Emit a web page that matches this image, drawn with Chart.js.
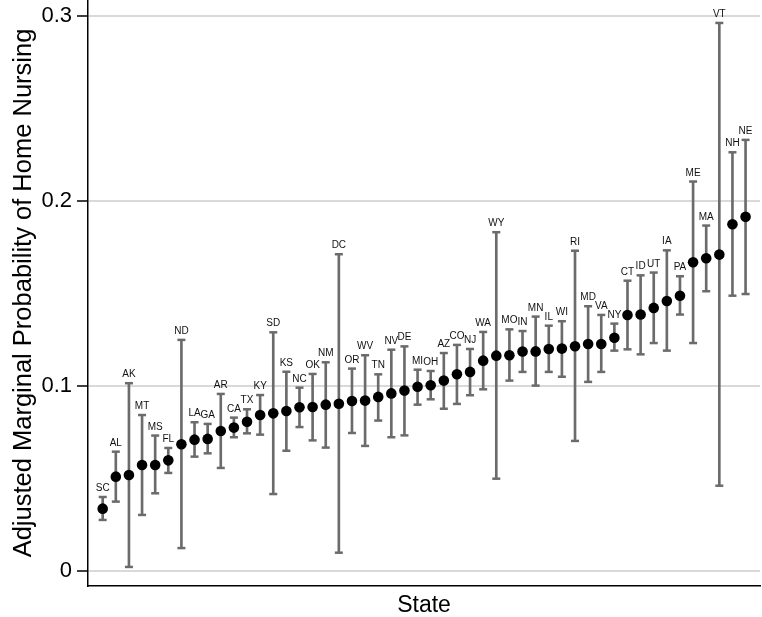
<!DOCTYPE html>
<html>
<head>
<meta charset="utf-8">
<script src="https://cdn.jsdelivr.net/npm/chart.js@4/dist/chart.umd.min.js"></script>
<style>
  html, body { margin: 0; padding: 0; background: #fff; }
  #chart { display: block; }
</style>
</head>
<body>
<canvas id="chart" width="762" height="617"></canvas>
<script>
// States sorted by adjusted marginal probability, with 95% CI
const states = ['SC','AL','AK','MT','MS','FL','ND','LA','GA','AR','CA','TX','KY','SD','KS','NC','OK','NM','DC','OR',
    'WV','TN','NV','DE','MI','OH','AZ','CO','NJ','WA','WY','MO','IN','MN','IL','WI','RI','MD','VA','NY',
    'CT','ID','UT','IA','PA','ME','MA','VT','NH','NE'];

const estimate = [0.0337,0.0510,0.0519,0.0573,0.0573,0.0598,0.0685,0.0710,0.0714,0.0757,0.0775,0.0807,0.0843,0.0852,0.0865,0.0885,0.0886,0.0899,0.0904,0.0919,
    0.0921,0.0941,0.0960,0.0975,0.0996,0.1004,0.1029,0.1063,0.1076,0.1137,0.1164,0.1166,0.1186,0.1187,0.1200,0.1202,0.1215,0.1227,0.1227,0.1261,
    0.1384,0.1386,0.1422,0.1459,0.1488,0.1669,0.1690,0.1710,0.1874,0.1914];

const lower = [0.0276,0.0375,0.0022,0.0303,0.0420,0.0530,0.0124,0.0618,0.0636,0.0557,0.0723,0.0744,0.0737,0.0416,0.0650,0.0778,0.0706,0.0667,0.0099,0.0746,
    0.0676,0.0813,0.0723,0.0733,0.0899,0.0928,0.0877,0.0903,0.0950,0.0982,0.0499,0.1029,0.1076,0.1002,0.1076,0.1050,0.0703,0.1022,0.1076,0.1191,
    0.1198,0.1171,0.1232,0.1191,0.1386,0.1232,0.1512,0.0461,0.1488,0.1497];

const upper = [0.0400,0.0645,0.1015,0.0843,0.0732,0.0665,0.1249,0.0804,0.0795,0.0957,0.0829,0.0874,0.0951,0.1290,0.1077,0.0991,0.1065,0.1128,0.1712,0.1094,
    0.1166,0.1063,0.1196,0.1214,0.1088,0.1081,0.1178,0.1222,0.1200,0.1292,0.1831,0.1306,0.1297,0.1375,0.1326,0.1350,0.1731,0.1431,0.1384,0.1337,
    0.1569,0.1598,0.1613,0.1733,0.1593,0.2105,0.1867,0.2962,0.2263,0.2330];

const yTicks = [0, 0.1, 0.2, 0.3];

const whiskerColor = '#6b6b6b';
const FONT = "'Liberation Sans', Arial, Helvetica, sans-serif";

// state abbreviations above the upper CI cap
const stateLabels = {
    id: 'stateLabels',
    afterDatasetsDraw(chart) {
        const { ctx, scales: { x, y } } = chart;
        ctx.save();
        ctx.font = '10px ' + FONT;
        ctx.fillStyle = '#111';
        ctx.textAlign = 'center';
        ctx.textBaseline = 'alphabetic';
        states.forEach((s, i) => {
            ctx.fillText(s, x.getPixelForValue(i + 1), y.getPixelForValue(upper[i]) - 6);
        });
        ctx.restore();
    }
};

new Chart(document.getElementById('chart'), {
    type: 'bar',
    data: {
        datasets: [
            {
                type: 'scatter',
                label: 'estimate',
                data: estimate.map((v, i) => ({ x: i + 1, y: v })),
                pointRadius: 5.3,
                pointBackgroundColor: '#000',
                pointBorderWidth: 0,
                order: 0
            },
            {
                type: 'scatter',
                label: 'upper cap',
                data: upper.map((v, i) => ({ x: i + 1, y: v })),
                pointStyle: 'line',
                pointRadius: 4,
                borderColor: whiskerColor,
                pointBorderWidth: 2.5,
                order: 1
            },
            {
                type: 'scatter',
                label: 'lower cap',
                data: lower.map((v, i) => ({ x: i + 1, y: v })),
                pointStyle: 'line',
                pointRadius: 4,
                borderColor: whiskerColor,
                pointBorderWidth: 2.5,
                order: 1
            },
            {
                type: 'bar',
                label: 'ci',
                data: lower.map((v, i) => ({ x: i + 1, y: [v, upper[i]] })),
                backgroundColor: whiskerColor,
                barThickness: 2,
                order: 2
            }
        ]
    },
    options: {
        responsive: false,
        animation: false,
        layout: { autoPadding: false, padding: { top: 0, right: 2, left: 0, bottom: 0 } },
        plugins: {
            legend: { display: false },
            tooltip: { enabled: false }
        },
        scales: {
            x: {
                type: 'linear',
                offset: false,
                min: -0.12,
                max: 51.1,
                grid: { display: false },
                ticks: { display: false },
                border: { display: true, color: '#000', width: 1.5 },
                title: {
                    display: true,
                    text: 'State',
                    color: '#000',
                    font: { family: FONT, size: 23, lineHeight: 1 },
                    padding: { top: 0, bottom: 0 }
                },
                afterFit(scale) {
                    scale.height = 31;
                    scale.paddingLeft = 0;
                    scale.paddingRight = 0;
                }
            },
            y: {
                min: -0.0081,
                max: 0.3086,
                afterBuildTicks(scale) {
                    scale.ticks = yTicks.map(v => ({ value: v }));
                },
                ticks: {
                    color: '#000',
                    padding: 5,
                    font: { family: FONT, size: 22 },
                    callback: v => (v === 0 ? '0' : v.toFixed(1))
                },
                grid: {
                    color: '#d9d9d9',
                    lineWidth: 2,
                    drawTicks: true,
                    tickLength: 11,
                    tickColor: '#000',
                    tickWidth: 1.5
                },
                border: { display: true, color: '#000', width: 1.5 },
                title: {
                    display: true,
                    text: 'Adjusted Marginal Probability of Home Nursing',
                    color: '#000',
                    font: { family: FONT, size: 25.5, lineHeight: 1.2 },
                    padding: { top: 9, bottom: 0 }
                },
                afterFit(scale) {
                    scale.width = 88;
                    scale.paddingTop = 0;
                    scale.paddingBottom = 0;
                }
            }
        }
    },
    plugins: [stateLabels]
});
</script>
</body>
</html>
